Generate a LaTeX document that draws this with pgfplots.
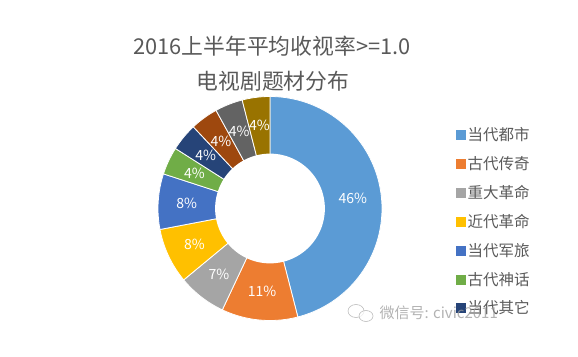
\documentclass[border=0pt]{standalone}
\usepackage{pgfplots}
\pgfplotsset{compat=1.18}
\usepackage{fontspec}
\setmainfont{Noto Sans CJK SC}
\definecolor{c1}{HTML}{5B9BD5}
\definecolor{c2}{HTML}{ED7D31}
\definecolor{c3}{HTML}{A5A5A5}
\definecolor{c4}{HTML}{FFC000}
\definecolor{c5}{HTML}{4472C4}
\definecolor{c6}{HTML}{70AD47}
\definecolor{c7}{HTML}{264478}
\definecolor{c8}{HTML}{9E480E}
\definecolor{c9}{HTML}{636363}
\definecolor{c10}{HTML}{997300}
\definecolor{txt}{HTML}{595959}
\begin{document}
\begin{tikzpicture}[x=1pt,y=1pt]
\path[use as bounding box] (0,0) rectangle (578,356);
\node[text=txt, font=\fontsize{21.8}{24}\selectfont] at (272,310) {2016上半年平均收视率>=1.0};
\node[text=txt, font=\fontsize{21.8}{24}\selectfont] at (273,275) {电视剧题材分布};
\begin{axis}[at={(270pt,147.5pt)}, anchor=center, scale only axis,
  width=224pt, height=224pt, xmin=-1, xmax=1, ymin=-1, ymax=1,
  hide axis, clip=false,
  legend cell align=left,
  legend style={draw=none, fill=none, at={(1.33,0.872)}, anchor=north west,
    font=\fontsize{15.5}{17}\selectfont, text=txt, row sep=10.3pt,
    inner sep=0pt},
  legend image code/.code={\fill[#1] (0pt,-4.5pt) rectangle (9pt,4.5pt);},
]
\def\cum{0}
\pgfplotsforeachungrouped \v/\c in {46/c1,11/c2,7/c3,8/c4,8/c5,4/c6,4/c7,4/c8,4/c9,4/c10}{
  \pgfmathsetmacro\s{90-3.6*\cum}
  \pgfmathsetmacro\e{90-3.6*(\cum+\v)}
  \edef\temp{\noexpand\addplot[fill=\c, draw=white, line width=0.8pt, domain=\e:\s, samples=80, forget plot] ({cos(x)},{sin(x)}) -- (axis cs:0,0) -- cycle;}
  \temp
  \pgfmathsetmacro\cum{\cum+\v}
}
\addplot[fill=white, draw=none, domain=0:360, samples=150, forget plot] ({0.49*cos(x)},{0.49*sin(x)}) -- cycle;
\def\cum{0}
\pgfplotsforeachungrouped \v in {46,11,7,8,8,4,4,4,4,4}{
  \pgfmathsetmacro\m{90-3.6*(\cum+\v/2)}
  \edef\temp{\noexpand\node[text=white, font=\noexpand\fontsize{14}{16}\noexpand\selectfont] at (axis cs:{0.745*cos(\m)},{0.745*sin(\m)}) {\v\noexpand\%};}
  \temp
  \pgfmathsetmacro\cum{\cum+\v}
}
\addlegendimage{c1}\addlegendentry{当代都市}
\addlegendimage{c2}\addlegendentry{古代传奇}
\addlegendimage{c3}\addlegendentry{重大革命}
\addlegendimage{c4}\addlegendentry{近代革命}
\addlegendimage{c5}\addlegendentry{当代军旅}
\addlegendimage{c6}\addlegendentry{古代神话}
\addlegendimage{c7}\addlegendentry{当代其它}
\end{axis}
\begin{scope}[opacity=0.75]
\draw[gray!70, line width=0.6pt] (356,45) ellipse (8pt and 6.5pt);
\draw[gray!70, line width=0.6pt, fill=white] (366,40) ellipse (7pt and 5.5pt);
\node[text=gray!80, font=\fontsize{15}{17}\selectfont, anchor=west] at (376,43) {微信号: civic2011};
\end{scope}
\end{tikzpicture}
\end{document}
